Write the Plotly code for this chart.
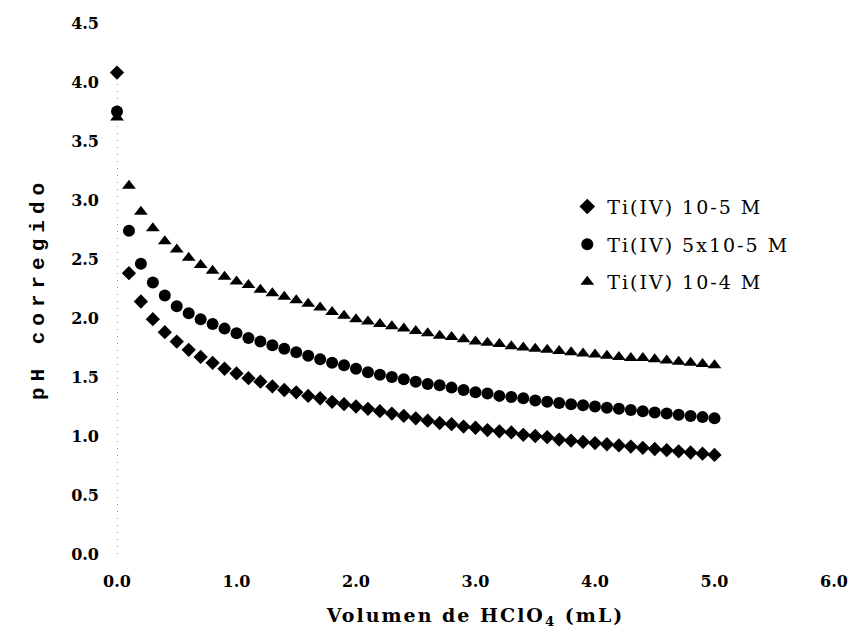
import plotly.graph_objects as go

vol = [round(i * 0.1, 1) for i in range(51)]

ph_1e5 = [4.08, 2.38, 2.14, 1.99, 1.88, 1.80, 1.73, 1.67, 1.62, 1.57,
          1.53, 1.49, 1.46, 1.42, 1.39, 1.37, 1.34, 1.32, 1.29, 1.27,
          1.25, 1.23, 1.21, 1.19, 1.17, 1.15, 1.13, 1.11, 1.10, 1.08,
          1.07, 1.05, 1.04, 1.03, 1.01, 1.00, 0.99, 0.97, 0.96, 0.95,
          0.94, 0.93, 0.92, 0.91, 0.90, 0.89, 0.88, 0.87, 0.86, 0.85, 0.84]

ph_5e5 = [3.75, 2.74, 2.46, 2.30, 2.19, 2.10, 2.04, 1.99, 1.95, 1.91,
          1.87, 1.83, 1.80, 1.77, 1.74, 1.71, 1.68, 1.65, 1.62, 1.60,
          1.57, 1.54, 1.52, 1.50, 1.48, 1.46, 1.44, 1.43, 1.41, 1.39,
          1.37, 1.36, 1.34, 1.33, 1.32, 1.30, 1.29, 1.28, 1.27, 1.26,
          1.25, 1.24, 1.23, 1.22, 1.21, 1.20, 1.19, 1.18, 1.17, 1.16, 1.15]

ph_1e4 = [3.70, 3.12, 2.90, 2.76, 2.65, 2.58, 2.51, 2.45, 2.40, 2.35,
          2.31, 2.28, 2.24, 2.21, 2.18, 2.15, 2.12, 2.09, 2.05, 2.02,
          1.99, 1.97, 1.95, 1.93, 1.91, 1.89, 1.87, 1.85, 1.84, 1.82,
          1.80, 1.79, 1.78, 1.76, 1.75, 1.74, 1.73, 1.72, 1.71, 1.70,
          1.69, 1.68, 1.67, 1.66, 1.66, 1.65, 1.64, 1.63, 1.62, 1.61, 1.60]

series_names = ["Ti(IV) 10-5 M", "Ti(IV) 5x10-5 M", "Ti(IV) 10-4 M"]
x_ticks = [0, 1, 2, 3, 4, 5, 6]
y_ticks = [0, 0.5, 1, 1.5, 2, 2.5, 3, 3.5, 4, 4.5]


def spaced(text, px):
    return f'<span style="letter-spacing:{px}px">{text}</span>'


fig = go.Figure()
specs = [(ph_1e5, "diamond", 11), (ph_5e5, "circle", 12), (ph_1e4, "triangle-up", 12)]
for i, (ys, sym, sz) in enumerate(specs):
    fig.add_trace(go.Scatter(
        x=vol, y=ys, mode="markers", name=spaced(series_names[i], 2),
        legendgroup=str(i),
        marker=dict(symbol=sym, size=sz, color="black"),
        cliponaxis=False,
    ))

fig.add_shape(type="line", xref="x", yref="y", x0=0, x1=0, y0=0, y1=4.0,
              line=dict(color="#333", width=1, dash="1px,6px"), layer="below")

tick_font = dict(family="DejaVu Serif", size=16, color="black", weight="bold")

fig.update_layout(
    width=860, height=637,
    margin=dict(l=117, r=22, t=23, b=83),
    paper_bgcolor="white", plot_bgcolor="white",
    showlegend=True,
    legend=dict(x=0.628, y=0.69, xanchor="left", yanchor="top",
                font=dict(family="DejaVu Serif", size=19, color="black"),
                tracegroupgap=10, itemsizing="constant",
                bgcolor="rgba(0,0,0,0)"),
    xaxis=dict(range=[0, 6], tickvals=x_ticks,
               ticktext=[f"{v:.1f}" for v in x_ticks],
               showgrid=False, zeroline=False, showline=False, ticks="",
               tickfont=tick_font, ticklabelstandoff=16,
               title=dict(text=spaced("Volumen de HClO<sub>4</sub> (mL)", 2),
                          font=dict(family="DejaVu Serif", size=19, color="black", weight="bold"),
                          standoff=18)),
    yaxis=dict(range=[0, 4.5], tickvals=y_ticks,
               ticktext=[f"{v:.1f}" for v in y_ticks],
               showgrid=False, zeroline=False, showline=False, ticks="",
               tickfont=tick_font, ticklabelstandoff=17,
               title=dict(text=spaced("pH corregido", 6),
                          font=dict(family="Liberation Mono", size=21, color="black", weight="bold"),
                          standoff=20)),
)

fig.write_html("out.html")
